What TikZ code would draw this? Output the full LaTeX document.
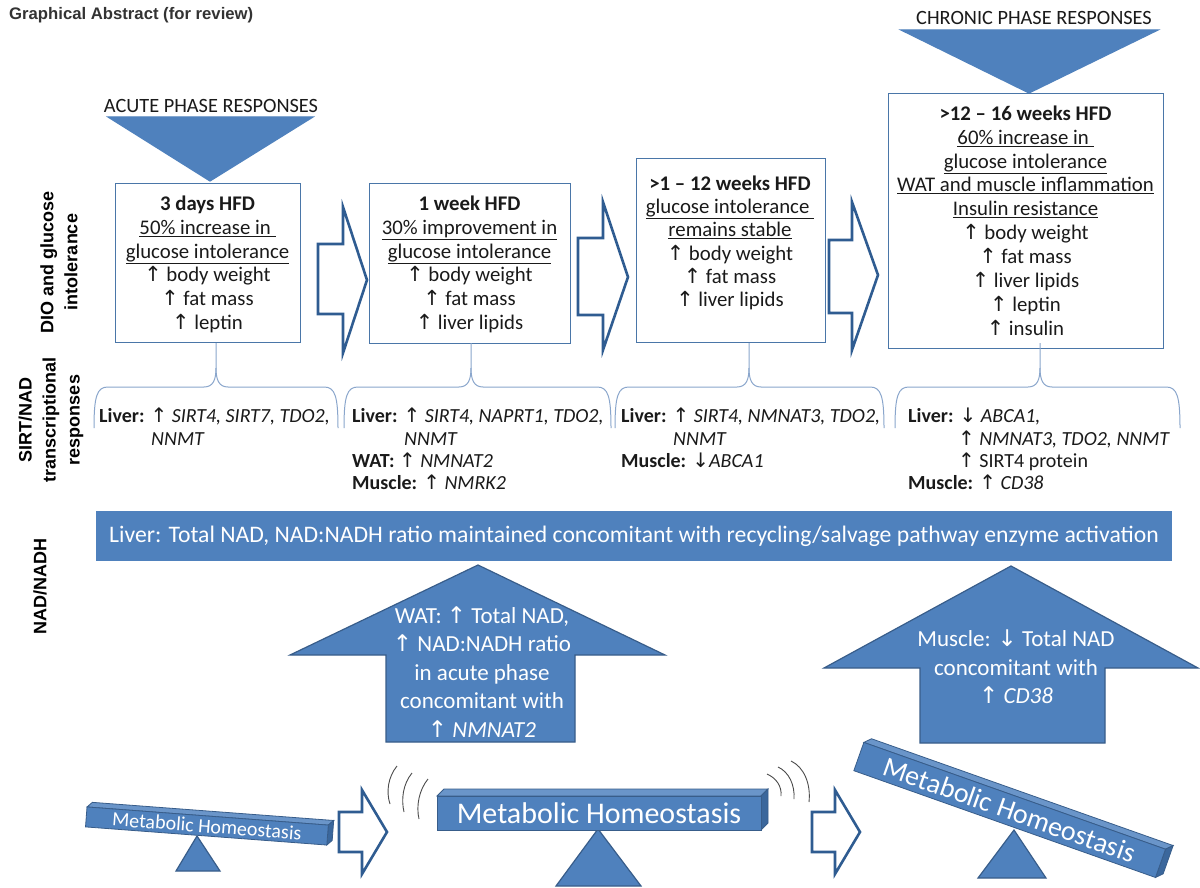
\documentclass[tikz,border=0pt]{standalone}
\usepackage{fontspec}
\setmainfont{Carlito}
\newfontfamily\lsans{Liberation Sans}
\newfontfamily\dvs{DejaVu Sans}
\newcommand{\UP}{{\dvs ↑}}
\newcommand{\DN}{{\dvs ↓}}
\definecolor{bfill}{HTML}{4F81BD}
\definecolor{bdark}{HTML}{385D8A}
\definecolor{boxc}{HTML}{4A76A8}
\definecolor{harrow}{HTML}{2F5C91}
\definecolor{bracec}{HTML}{8AA6CC}
\definecolor{txt}{HTML}{1A1A1A}
\definecolor{topf}{HTML}{6A95C9}
\definecolor{sidef}{HTML}{3B679C}
\newcommand{\mybrace}[3]{%
  \draw[brc] (#1,428) .. controls (#1,396) and (#1+3,387) .. (#1+14,387) -- (#3-12,387) .. controls (#3-3,387) and (#3,380) .. (#3,368) -- (#3,343);
  \draw[brc] (#3,368) .. controls (#3,380) and (#3+3,387) .. (#3+12,387) -- (#2-14,387) .. controls (#2-3,387) and (#2,396) .. (#2,428);}
\begin{document}
\begin{tikzpicture}[x=1pt,y=-1pt,
  boxst/.style={draw=boxc, line width=1.3pt, fill=white, inner sep=0pt, anchor=north west},
  btext/.style={align=center, inner sep=0pt, anchor=north, text=txt, font=\fontsize{20.8}{23.9}\selectfont},
  stext/.style={align=left, inner sep=0pt, anchor=north west, text=txt, font=\fontsize{20}{22.3}\selectfont},
  atext/.style={align=center, inner sep=0pt, anchor=north, text=white, font=\fontsize{23}{28.5}\selectfont},
  vlab/.style={align=center, inner sep=0pt, rotate=90, text=black, font=\lsans\bfseries\fontsize{18}{24}\selectfont},
  hollow/.style={draw=harrow, line width=2.6pt, fill=white, line join=miter},
  solidst/.style={fill=bfill, draw=bdark, line width=1.2pt},
  brc/.style={draw=bracec, line width=1pt},
  vib/.style={draw=gray!60!black, line width=0.9pt},
  frontf/.style={fill=bfill, draw=bdark, line width=0.8pt},
  topst/.style={fill=topf, draw=bdark, line width=0.8pt},
  sidest/.style={fill=sidef, draw=bdark, line width=0.8pt},
  mhtext/.style={text=white, inner sep=0pt, transform shape}
]
\fill[white] (0,0) rectangle (1200,888);
\useasboundingbox (0,0) rectangle (1200,888);

% title
\node[anchor=west, inner sep=0pt, text=black!80, font=\lsans\bfseries\fontsize{16.7}{19}\selectfont] (title) at (9,15) {Graphical Abstract (for review)};

% row labels
\node[vlab] (l1) at (59,262) {DIO and glucose\\intolerance};
\node[vlab] (l2) at (51,420) {SIRT/NAD\\transcriptional\\responses};
\node[vlab] (l3) at (40,586) {NAD/NADH};

% phase headers
\node[inner sep=0pt, text=txt, font=\fontsize{20.3}{22}\selectfont] (acute) at (211,106) {ACUTE PHASE RESPONSES};
\draw[solidst, draw=bfill] (108,117) -- (313,117) -- (210,181) -- cycle;
\node[inner sep=0pt, text=txt, font=\fontsize{20.3}{22}\selectfont] (chronic) at (1034,18) {CHRONIC PHASE RESPONSES};
\draw[solidst, draw=bfill] (901,30) -- (1158,30) -- (1029,93) -- cycle;

% boxes
\node[boxst, minimum width=185pt, minimum height=159pt] (b1) at (115,183) {};
\node[boxst, minimum width=201pt, minimum height=160pt] (b2) at (369,183) {};
\node[boxst, minimum width=189pt, minimum height=184pt] (b3) at (636,158) {};
\node[boxst, minimum width=275pt, minimum height=255pt] (b4) at (888,93) {};

\node[btext] (t1) at (207.5,195.5) {\textbf{3 days HFD}\\\underline{50\% increase in }\\\underline{glucose intolerance}\\\UP\ body weight\\\UP\ fat mass\\\UP\ leptin};
\node[btext] (t2) at (469.5,195.5) {\textbf{1 week HFD}\\\underline{30\% improvement in}\\\underline{glucose intolerance}\\\UP\ body weight\\\UP\ fat mass\\\UP\ liver lipids};
\node[btext, font=\fontsize{20.8}{23.3}\selectfont] (t3) at (730,175.5) {\textbf{>1 – 12 weeks HFD}\\\underline{glucose intolerance }\\\underline{remains stable}\\\UP\ body weight\\\UP\ fat mass\\\UP\ liver lipids};
\node[btext] (t4) at (1025.5,105.5) {\textbf{>12 – 16 weeks HFD}\\\underline{60\% increase in }\\\underline{glucose intolerance}\\\underline{WAT and muscle inflammation}\\\underline{Insulin resistance}\\\UP\ body weight\\\UP\ fat mass\\\UP\ liver lipids\\\UP\ leptin\\\UP\ insulin};

% hollow arrows between boxes
\draw[hollow] (318,244) -- (343,244) -- (343,207) -- (367,280) -- (343,353) -- (343,314) -- (318,314) -- cycle;
\draw[hollow] (578,238) -- (603,238) -- (603,202) -- (628,277) -- (603,350) -- (603,315) -- (578,315) -- cycle;
\draw[hollow] (829,240) -- (852,240) -- (852,202) -- (878,275) -- (852,350) -- (852,313) -- (829,313) -- cycle;

% braces
\mybrace{94}{338}{216}
\mybrace{344}{611}{471}
\mybrace{615}{884}{749}
\mybrace{895}{1180}{1040}

% SIRT/NAD texts
\node[stext] (s1) at (99,408) {\textbf{Liver:} \UP\ \textit{SIRT4, SIRT7, TDO2,}\\\hspace*{52pt}\textit{NNMT}};
\node[stext] (s2) at (352,408) {\textbf{Liver:} \UP\ \textit{SIRT4, NAPRT1, TDO2,}\\\hspace*{52pt}\textit{NNMT}\\\textbf{WAT:} \UP\ \textit{NMNAT2}\\\textbf{Muscle:} \UP\ \textit{NMRK2}};
\node[stext] (s3) at (621,408) {\textbf{Liver:} \UP\ \textit{SIRT4, NMNAT3, TDO2,}\\\hspace*{52pt}\textit{NNMT}\\\textbf{Muscle:} \DN\textit{ABCA1}};
\node[stext] (s4) at (908,408) {\textbf{Liver:} \DN\ \textit{ABCA1,}\\\hspace*{50pt}\UP\ \textit{NMNAT3, TDO2, NNMT}\\\hspace*{50pt}\UP\ SIRT4 protein\\\textbf{Muscle:} \UP\ \textit{CD38}};

% NAD bar
\node[fill=bfill, minimum width=1076pt, minimum height=50pt, inner sep=0pt, text=white, font=\fontsize{23.7}{25}\selectfont] (nadbar) at (634,536) {Liver: Total NAD, NAD:NADH ratio maintained concomitant with recycling/salvage pathway enzyme activation};

% big up arrows
\draw[solidst] (478,565) -- (665,655) -- (575,655) -- (575,742) -- (386,742) -- (386,655) -- (290,655) -- cycle;
\node[atext] (wa) at (482,606) {WAT: \UP\ Total NAD,\\\UP\ NAD:NADH ratio\\in acute phase\\concomitant with\\\UP\ \textit{NMNAT2}};
\draw[solidst] (1011,566) -- (1198,668) -- (1105,668) -- (1105,743) -- (920,743) -- (920,668) -- (824,668) -- cycle;
\node[atext] (ma) at (1016,630) {Muscle: \DN\ Total NAD\\concomitant with\\\UP\ \textit{CD38}};

% seesaw 1
\draw[solidst] (197,836) -- (220,871) -- (176,871) -- cycle;
\begin{scope}[shift={(207,825)}, rotate=-4.3]
  \draw[topst] (-121,-9) -- (-116,-14) -- (126,-14) -- (121,-9) -- cycle;
  \draw[sidest] (121,-9) -- (126,-14) -- (126,6) -- (121,11) -- cycle;
  \draw[frontf] (-121,-9) rectangle (121,11);
  \node[mhtext, font=\fontsize{20}{20}\selectfont] (mh1) at (0,1) {Metabolic Homeostasis};
\end{scope}

% arrow 4
\draw[hollow] (339,812) -- (362,812) -- (362,790) -- (387,832) -- (362,874) -- (362,852) -- (339,852) -- cycle;

% vibration left
\draw[vib] (397,766) .. controls (388,777) and (386,792) .. (390,804);
\draw[vib] (412,773) .. controls (403,784) and (401,799) .. (404,812);
\draw[vib] (428,779) .. controls (419,790) and (416,806) .. (419,819);

% seesaw 2
\draw[solidst] (598,829) -- (641,886) -- (556,886) -- cycle;
\draw[topst] (437,796) -- (444,789) -- (768,789) -- (761,796) -- cycle;
\draw[sidest] (761,796) -- (768,789) -- (768,823) -- (761,830) -- cycle;
\draw[frontf] (437,796) rectangle (761,830);
\node[mhtext, font=\fontsize{30}{30}\selectfont] (mh2) at (599,813) {Metabolic Homeostasis};

% vibration right
\draw[vib] (767,774) .. controls (776,778) and (782,786) .. (781,796);
\draw[vib] (778,767) .. controls (789,772) and (795,785) .. (794,799);
\draw[vib] (791,761) .. controls (804,767) and (811,784) .. (809,802);

% arrow 5
\draw[hollow] (812,812) -- (835,812) -- (835,790) -- (860,832) -- (835,874) -- (835,852) -- (812,852) -- cycle;

% seesaw 3
\draw[solidst] (1014,830) -- (1046,878) -- (978,878) -- cycle;
\begin{scope}[shift={(1010,809)}, rotate=-19.5]
  \draw[topst] (-160,-14) -- (-154,-20) -- (166,-20) -- (160,-14) -- cycle;
  \draw[sidest] (160,-14) -- (166,-20) -- (166,10) -- (160,16) -- cycle;
  \draw[frontf] (-160,-14) rectangle (160,16);
  \node[mhtext, font=\fontsize{28}{28}\selectfont] (mh3) at (0,1) {Metabolic Homeostasis};
\end{scope}
\end{tikzpicture}
\end{document}
